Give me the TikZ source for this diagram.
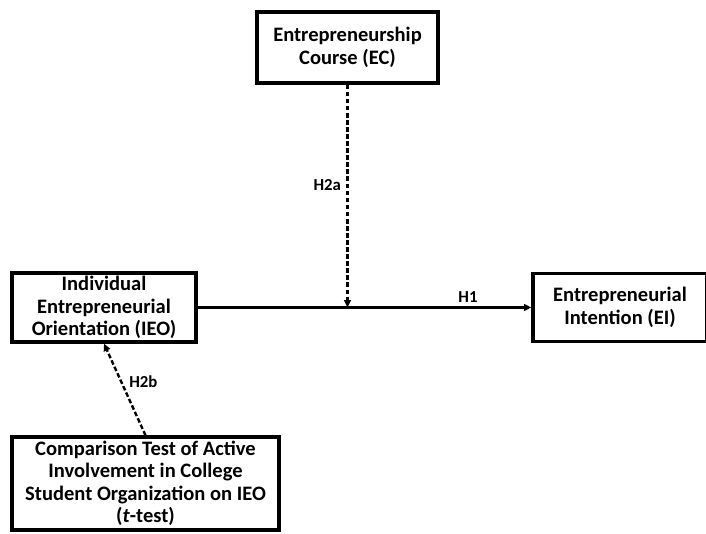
\documentclass[tikz,border=0pt]{standalone}
\usepackage{fontspec}
\setmainfont{Carlito}
\usetikzlibrary{arrows.meta}

\begin{document}
\begin{tikzpicture}[x=0.75pt, y=-0.75pt,
  box/.style={draw, line width=2.4pt, align=center, inner sep=0pt, font=\bfseries\fontsize{15.4}{16.9}\selectfont},
  hyp/.style={inner sep=0pt, font=\bfseries\fontsize{12.6}{14}\selectfont},
  link/.style={line width=1.8pt, -{Triangle[length=5.5pt,width=5pt]}},
  moderate/.style={link, dash pattern=on 3.5pt off 1.8pt}]
\useasboundingbox (0,0) rectangle (706,534);
\node[box, minimum width=135.75pt, minimum height=53.25pt] (ec) at (347.5,47.5) {Entrepreneurship\\Course (EC)};
\node[box, minimum width=138pt, minimum height=51.75pt] (ieo) at (104,307.5) {Individual\\Entrepreneurial\\Orientation (IEO)};
\node[box, minimum width=130.5pt, minimum height=51pt] (ei) at (620,307.5) {Entrepreneurial\\Intention (EI)};
\node[box, minimum width=200.25pt, minimum height=69.75pt] (cmp) at (145.5,483.5) {Comparison Test of Active\\Involvement in College\\Student Organization on IEO\\(\textit{t}-test)};
\coordinate (mid) at (ec.south |- ieo.east);
\draw[link] (ieo.east) -- node[hyp, pos=0.81, above=3pt] {H1} (ei.west);
\draw[moderate] (ec.south) -- node[hyp, pos=0.45, left=4pt] {H2a} (mid);
\draw[moderate] (cmp.north) -- node[hyp, pos=0.58, right=5pt] {H2b} (ieo.south);
\end{tikzpicture}
\end{document}
